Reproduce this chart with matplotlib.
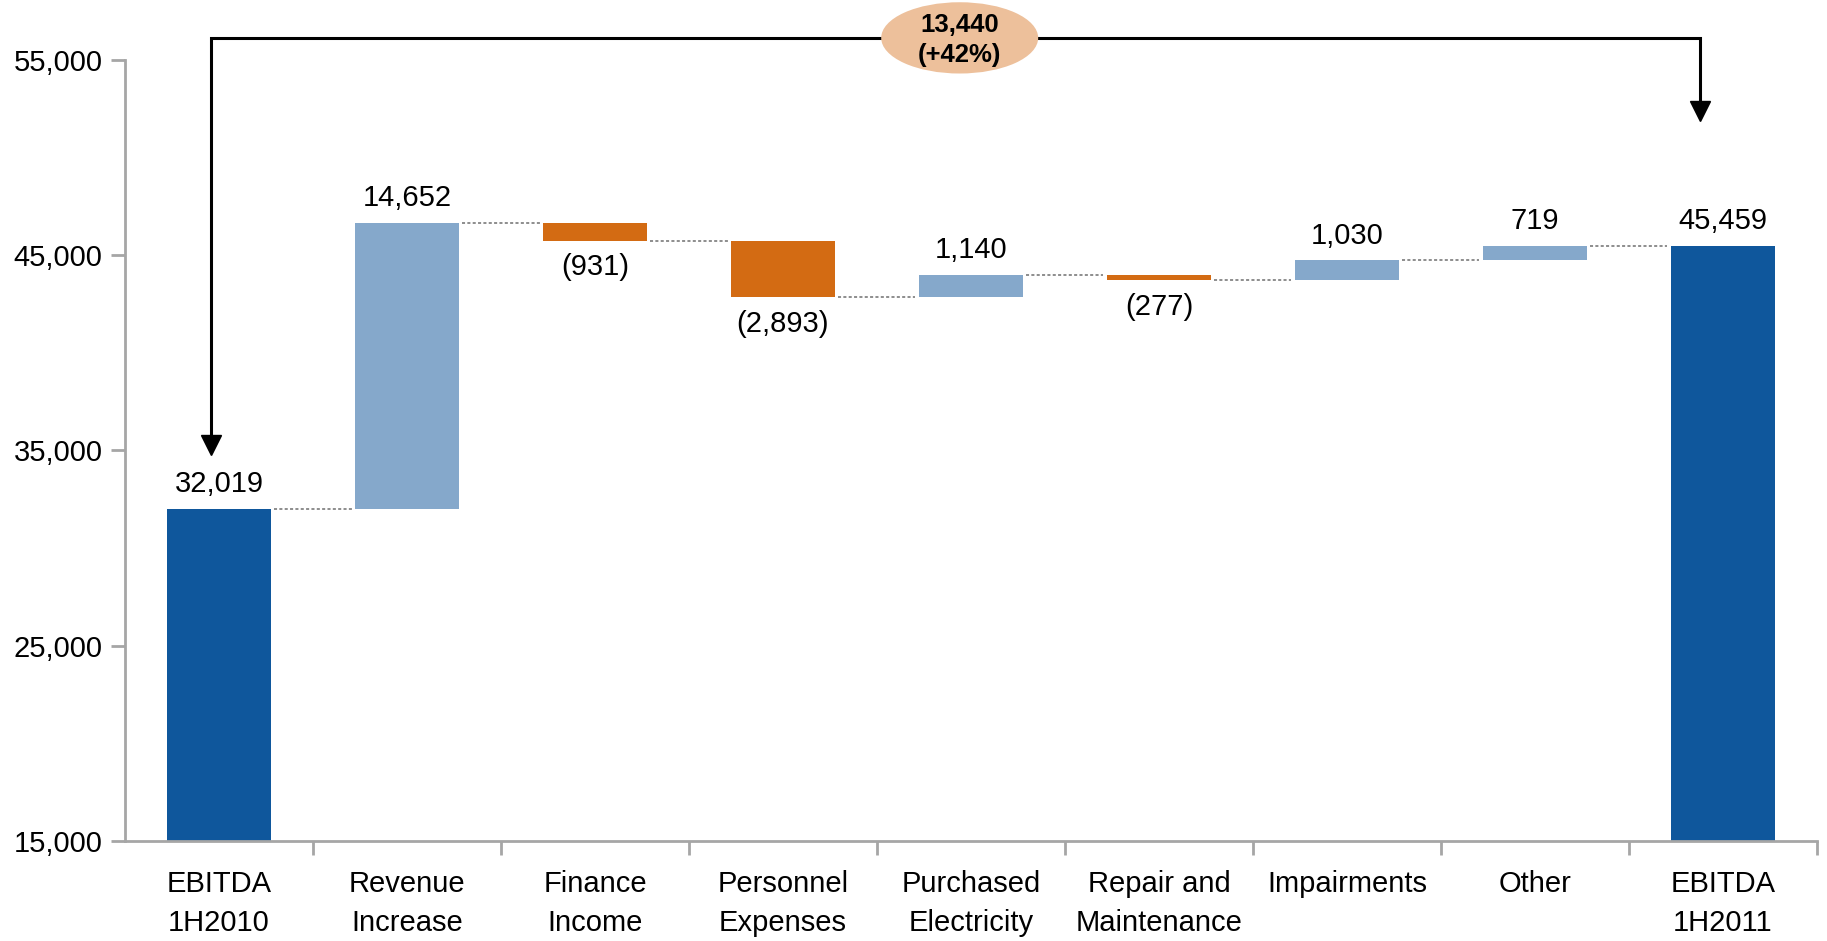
import numpy as np
import matplotlib
matplotlib.use('Agg')
import matplotlib.pyplot as plt
from matplotlib.patches import Ellipse

categories = ['EBITDA\n1H2010', 'Revenue\nIncrease', 'Finance\nIncome', 'Personnel\nExpenses',
              'Purchased\nElectricity', 'Repair and\nMaintenance', 'Impairments', 'Other',
              'EBITDA\n1H2011']
start_value = 32019
changes = [14652, -931, -2893, 1140, -277, 1030, 719]
end_value = 45459
total_change = 13440
total_pct = 42

DARK = '#0F579C'
LIGHT = '#85A8CB'
ORANGE = '#D36B13'
GRID = '#A6A6A6'
FS = 21

plt.rcParams['font.family'] = ['Liberation Sans', 'DejaVu Sans']

fig = plt.figure(figsize=(18.27, 9.41), dpi=100)
ax = fig.add_axes([0.0684, 0.1063, 0.9261, 0.8300])

w = 0.55
x = np.arange(len(categories))

# opening and closing totals
ax.bar(x[0], start_value - 15000, bottom=15000, width=w, color=DARK)
ax.bar(x[-1], end_value - 15000, bottom=15000, width=w, color=DARK)
ax.text(x[0], start_value + 550, f"{start_value:,}", ha='center', va='bottom', fontsize=FS)
ax.text(x[-1], end_value + 550, f"{end_value:,}", ha='center', va='bottom', fontsize=FS)

level = start_value
levels = [start_value]
for i, d in enumerate(changes, start=1):
    lo, hi = (level, level + d) if d > 0 else (level + d, level)
    ax.bar(x[i], hi - lo, bottom=lo, width=w, color=LIGHT if d > 0 else ORANGE)
    if d > 0:
        ax.text(x[i], hi + 550, f"{d:,}", ha='center', va='bottom', fontsize=FS)
    else:
        ax.text(x[i], lo - 650, f"({-d:,})", ha='center', va='top', fontsize=FS)
    level += d
    levels.append(level)

# dotted connectors between bars
for i, lv in enumerate(levels):
    ax.plot([x[i] + w / 2 + 0.02, x[i + 1] - w / 2 - 0.02], [lv, lv],
            color='#6F6F6F', lw=1.1, ls=(0, (2, 1.5)))

# bracket arrow from start to end
top = 56130
ax.plot([x[0] - 0.04, x[0] - 0.04, x[-1] - 0.12, x[-1] - 0.12],
        [35800, top, top, 52900], color='black', lw=2.2, clip_on=False,
        solid_joinstyle='miter')
ax.plot([x[0] - 0.04], [35300], marker='v', ms=14, color='black', clip_on=False)
ax.plot([x[-1] - 0.12], [52400], marker='v', ms=14, color='black', clip_on=False)
ax.add_patch(Ellipse((3.94, top), 0.835, 3650, facecolor='#EDC09B', edgecolor='none',
                     clip_on=False, zorder=3))
ax.text(3.94, top - 100, f"{total_change:,}\n(+{total_pct}%)", ha='center', va='center',
        fontsize=18.5, fontweight='bold', zorder=4, linespacing=1.3)

ax.set_xlim(-0.5, len(categories) - 0.5)
ax.set_ylim(15000, 55000)
ax.set_yticks([15000, 25000, 35000, 45000, 55000])
ax.set_yticklabels([f"{v:,}" for v in [15000, 25000, 35000, 45000, 55000]], fontsize=FS)
ax.set_xticks(x)
ax.set_xticklabels(categories, fontsize=FS, linespacing=1.5)
ax.set_xticks(np.arange(len(categories)) + 0.5, minor=True)
ax.tick_params(axis='x', which='major', length=0, pad=21)
ax.tick_params(axis='x', which='minor', length=10, width=2, color=GRID, direction='out')
ax.tick_params(axis='y', length=10, width=2, color=GRID, pad=6)

for s in ['top', 'right']:
    ax.spines[s].set_visible(False)
for s in ['left', 'bottom']:
    ax.spines[s].set_color(GRID)
    ax.spines[s].set_linewidth(2)

fig.savefig('out.png', dpi=100)
